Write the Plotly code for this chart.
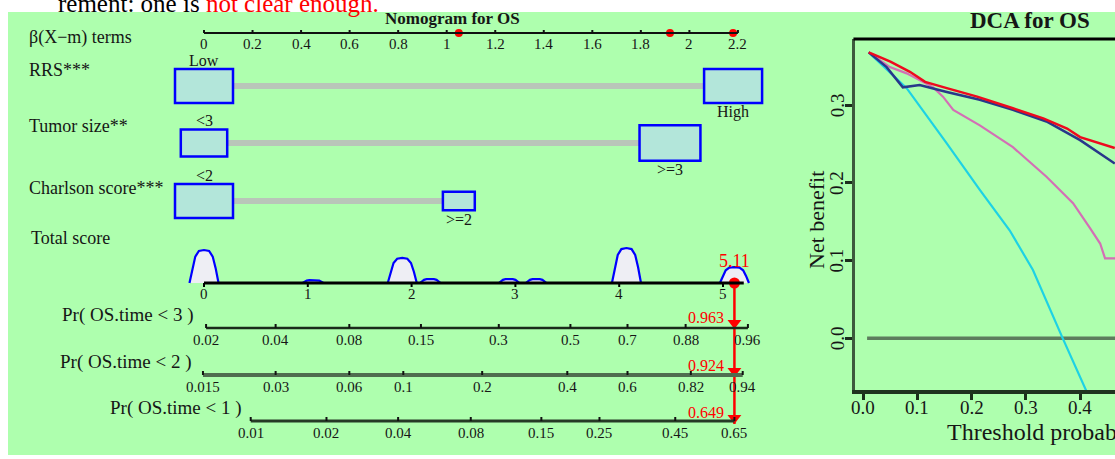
import plotly.graph_objects as go

# ---------------- data ----------------
beta_ticks = [0, 0.2, 0.4, 0.6, 0.8, 1.0, 1.2, 1.4, 1.6, 1.8, 2.0, 2.2]
beta_tick_labels = ["0", "0.2", "0.4", "0.6", "0.8", "1", "1.2", "1.4", "1.6", "1.8", "2", "2.2"]

predictors = ["RRS***", "Tumor size**", "Charlson score***"]
ref_levels = ["Low", "<3", "<2"]
alt_levels = ["High", ">=3", ">=2"]
ref_beta = [0.0, 0.0, 0.0]
alt_beta = [2.18, 1.92, 1.05]
ref_freq = [1.0, 0.8, 1.0]      # relative group size (box size)
alt_freq = [1.0, 1.05, 0.55]

total_ticks = [0, 1, 2, 3, 4, 5]
total_score = 5.11
density_centers = [0.0, 1.05, 1.91, 2.18, 2.94, 3.20, 4.07, 5.11]
density_values = [1.0, 0.09, 0.76, 0.12, 0.12, 0.12, 1.06, 0.48]

pr_labels = ["Pr( OS.time < 3 )", "Pr( OS.time < 2 )", "Pr( OS.time < 1 )"]
pr3_ticks = ["0.02", "0.04", "0.08", "0.15", "0.3", "0.5", "0.7", "0.88", "0.96"]
pr3_pos = [0.02, 0.69, 1.40, 2.09, 2.84, 3.53, 4.08, 4.64, 5.24]
pr2_ticks = ["0.015", "0.03", "0.06", "0.1", "0.2", "0.4", "0.6", "0.82", "0.94"]
pr2_pos = [-0.01, 0.69, 1.40, 1.92, 2.68, 3.50, 4.08, 4.69, 5.19]
pr1_ticks = ["0.01", "0.02", "0.04", "0.08", "0.15", "0.25", "0.45", "0.65"]
pr1_pos = [0.45, 1.18, 1.87, 2.57, 3.25, 3.81, 4.54, 5.11]
pred_probs = ["0.963", "0.924", "0.649"]

# DCA
thr_red = [0.01, 0.05, 0.086, 0.114, 0.154, 0.21, 0.276, 0.332, 0.376, 0.40, 0.464]
nb_red = [0.368, 0.356, 0.343, 0.330, 0.322, 0.311, 0.296, 0.283, 0.270, 0.259, 0.245]
thr_navy = [0.01, 0.043, 0.073, 0.104, 0.154, 0.215, 0.276, 0.338, 0.40, 0.464]
nb_navy = [0.368, 0.349, 0.323, 0.326, 0.317, 0.307, 0.294, 0.279, 0.255, 0.225]
thr_pink = [0.01, 0.049, 0.080, 0.129, 0.147, 0.166, 0.215, 0.276, 0.338, 0.387, 0.418, 0.437, 0.446, 0.47]
nb_pink = [0.368, 0.349, 0.341, 0.323, 0.311, 0.294, 0.274, 0.246, 0.208, 0.174, 0.142, 0.122, 0.103, 0.103]
thr_all = [0.01, 0.08, 0.154, 0.215, 0.27, 0.313, 0.368, 0.409, 0.413]
nb_all = [0.368, 0.322, 0.251, 0.191, 0.139, 0.088, 0.0, -0.063, -0.07]
thr_none = [0.007, 0.47]
nb_none = [0.0, 0.0]
dca_xticks = [0.0, 0.1, 0.2, 0.3, 0.4]
dca_yticks = [0.0, 0.1, 0.2, 0.3]

# ---------------- layout constants ----------------
W, H = 1115, 459
B0_PX, PX_PER_B = 204.0, 242.7          # beta-axis placement
T_PER_B = 103.8 / 242.7                 # total-score axis compression


def px2b(px):
    return (px - B0_PX) / PX_PER_B


def t2b(t):
    return t * T_PER_B


SERIF = "Liberation Serif"
TXT = "#161616"
BOX_W, BOX_H = 58, 34

y_beta_axis = 33
row_y = [86, 143, 201]
row_label_y = [70, 126, 188]
y_total_axis = 283
pr_axis_y = [328, 375, 421]
pr_label_y = [315, 362, 408]
pr_label_x = [60, 58, 108]
pr_axis_w = [2.5, 4, 3]
pr_axis_c = ["#1b2b1b", "#4f6d4f", "#263a26"]
pred_y = [323, 371, 418]

fig = go.Figure()
shapes = []
ann = []

# green background
shapes.append(dict(type="rect", xref="paper", yref="paper", x0=8 / W, x1=1, y0=(H - 455) / H, y1=(H - 12) / H,
                   fillcolor="#aeffae", line=dict(width=0), layer="below"))


def text(x, y, s, size=15, anchor="center", color=TXT, xref="x", yref="y", **kw):
    ann.append(dict(x=x, y=y, xref=xref, yref=yref, text=s, showarrow=False, xanchor=anchor, yanchor="middle",
                    font=dict(family=SERIF, size=size, color=color), **kw))


def seg(x0, y0, x1, y1, color, width, xref="x", yref="y"):
    shapes.append(dict(type="line", xref=xref, yref=yref, x0=x0, y0=y0, x1=x1, y1=y1,
                       line=dict(color=color, width=width)))


# top cut-off text
ann.append(dict(x=56 / W, y=1, xref="paper", yref="paper", xanchor="left", yanchor="middle", yshift=-3,
                showarrow=False, text="rement: one is <span style='color:#ff0000'>not clear enough.</span>",
                font=dict(family=SERIF, size=25, color="#000")))

# nomogram title
text(px2b(452), 18, "<b>Nomogram for OS</b>", size=17)

# beta axis
text(px2b(27), 37, "β(X−m) terms", size=18, anchor="left")
seg(beta_ticks[0], y_beta_axis, beta_ticks[-1], y_beta_axis, "#111", 2)
for b, lab in zip(beta_ticks, beta_tick_labels):
    seg(b, y_beta_axis, b, y_beta_axis - 3, "#111", 2)
    text(b, 44, lab, size=15)

# predictor rows
for i in range(3):
    text(px2b(27), row_label_y[i], predictors[i], size=18, anchor="left")
    cy = row_y[i]
    rw, rh = BOX_W * ref_freq[i], BOX_H * ref_freq[i]
    aw, ah = BOX_W * alt_freq[i], BOX_H * alt_freq[i]
    seg(ref_beta[i] + rw / 2 / PX_PER_B, cy, alt_beta[i] - aw / 2 / PX_PER_B, cy, "#b9c6b9", 6)
    for b, w, h in [(ref_beta[i], rw, rh), (alt_beta[i], aw, ah)]:
        shapes.append(dict(type="rect", xref="x", yref="y", x0=b - w / 2 / PX_PER_B, x1=b + w / 2 / PX_PER_B,
                           y0=cy - h / 2, y1=cy + h / 2, fillcolor="#b3e6da", line=dict(color="#0000ff", width=2.5)))
    text(ref_beta[i], cy - rh / 2 - 9, ref_levels[i], size=16)
    text(alt_beta[i], cy + ah / 2 + 9, alt_levels[i], size=16)

fig.add_trace(go.Scatter(x=ref_beta, y=row_y, mode="markers", marker=dict(color="#222", size=3),
                         hoverinfo="skip"))
fig.add_trace(go.Scatter(x=alt_beta, y=row_y, mode="markers", marker=dict(color="#ff0000", size=9),
                         hoverinfo="skip"))
fig.add_trace(go.Scatter(x=alt_beta, y=[y_beta_axis] * 3, mode="markers", marker=dict(color="#ff0000", size=8),
                         hoverinfo="skip"))

# total score axis + density bumps
text(px2b(29), 238, "Total score", size=18, anchor="left")
prof_off = [-1, -0.8, -0.6, -0.35, 0, 0.35, 0.6, 0.8, 1]
prof_h = [0, 0.45, 0.8, 0.97, 1, 0.97, 0.8, 0.45, 0]
for c, d in zip(density_centers, density_values):
    hw = 0.14 if d > 0.3 else 0.10
    xs = [t2b(c + o * hw) for o in prof_off]
    ys = [y_total_axis - 33 * d * p for p in prof_h]
    fig.add_trace(go.Scatter(x=xs, y=ys, mode="lines", fill="toself", fillcolor="#eeeef4",
                             line=dict(color="#0000ff", width=2.2), hoverinfo="skip"))
seg(t2b(0), y_total_axis, t2b(5.2), y_total_axis, "#000", 3)
for t in total_ticks:
    seg(t2b(t), y_total_axis, t2b(t), y_total_axis + 4, "#000", 2)
    text(t2b(t), 294, str(t), size=15)

# probability axes
for i, (ticks, pos) in enumerate([(pr3_ticks, pr3_pos), (pr2_ticks, pr2_pos), (pr1_ticks, pr1_pos)]):
    text(px2b(pr_label_x[i]), pr_label_y[i], pr_labels[i], size=19, anchor="left")
    ya = pr_axis_y[i]
    seg(t2b(pos[0]), ya, t2b(pos[-1]), ya, pr_axis_c[i], pr_axis_w[i])
    for lab, p in zip(ticks, pos):
        seg(t2b(p), ya, t2b(p), ya - 4, "#111", 2)
        text(t2b(p), ya + 12, lab, size=15)

# selected total score marker
tb = t2b(total_score)
fig.add_trace(go.Scatter(x=[tb, tb], y=[y_total_axis, 424], mode="lines", line=dict(color="#ff0000", width=2.5),
                         hoverinfo="skip"))
fig.add_trace(go.Scatter(x=[tb], y=[y_total_axis], mode="markers", marker=dict(color="#ff0000", size=11),
                         hoverinfo="skip"))
fig.add_trace(go.Scatter(x=[tb] * 3, y=pred_y, mode="markers",
                         marker=dict(color="#ff0000", size=12, symbol="triangle-down"), hoverinfo="skip"))
text(tb, 261, f"{total_score:.2f}", size=18, color="#ff0000")
for p, yv in zip(pred_probs, pred_y):
    text(tb, yv - 6, p, size=16, color="#ff0000", anchor="right", xshift=-8)

# ---------------- DCA panel ----------------
def dca(x, y, color, width=2.3):
    fig.add_trace(go.Scatter(x=x, y=y, xaxis="x2", yaxis="y2", mode="lines",
                             line=dict(color=color, width=width), hoverinfo="skip"))


dca(thr_none, nb_none, "#5d7d5d", 3.5)
dca(thr_all, nb_all, "#1ed2e4", 2.2)
dca(thr_pink, nb_pink, "#d46fb5", 2.2)
dca(thr_navy, nb_navy, "#28378a", 2.5)
dca(thr_red, nb_red, "#ee0a1e", 2.5)

shapes.append(dict(type="line", xref="x2 domain", yref="y2 domain", x0=-0.006, x1=1, y0=1, y1=1,
                   line=dict(color="#000", width=3)))
for v in dca_xticks:
    text(v, 1 - 407 / H, f"{v:.1f}", size=19, xref="x2", yref="paper")
for v in dca_yticks:
    text(837 / W, v, f"{v:.1f}", size=19, xref="paper", yref="y2", textangle=-90)
text(1030 / W, 1 - 20 / H, "<b>DCA for OS</b>", size=23, xref="paper", yref="paper")
text(816 / W, 1 - 220 / H, "Net benefit", size=22, xref="paper", yref="paper", textangle=-90)
text(945 / W, 1 - 432 / H, "Threshold probability", size=24, anchor="left", xref="paper", yref="paper")

fig.update_layout(
    width=W, height=H, margin=dict(l=0, r=0, t=0, b=0),
    paper_bgcolor="#ffffff", plot_bgcolor="rgba(0,0,0,0)", showlegend=False,
    xaxis=dict(domain=[0, 1], range=[px2b(0), px2b(W)], visible=False, fixedrange=True),
    yaxis=dict(domain=[0, 1], range=[H, 0], visible=False, fixedrange=True),
    xaxis2=dict(domain=[855 / W, 1], range=[-0.0153, 0.4644], anchor="y2",
                tickvals=dca_xticks, showticklabels=False,
                ticks="outside", ticklen=6, tickwidth=3, tickcolor="#1c2e1c",
                showline=True, linewidth=4, linecolor="#1f331f", showgrid=False, zeroline=False),
    yaxis2=dict(domain=[(H - 390) / H, (H - 39) / H], range=[-0.0665, 0.3852], anchor="x2",
                tickvals=dca_yticks, showticklabels=False,
                ticks="outside", ticklen=7, tickwidth=3, tickcolor="#1c2e1c",
                showline=True, linewidth=3, linecolor="#3d5a3d", showgrid=False, zeroline=False),
    shapes=shapes, annotations=ann,
)

fig.write_html("out.html", config={"displayModeBar": False},
               post_script="document.body.style.margin='0px';document.body.style.overflow='hidden';")
